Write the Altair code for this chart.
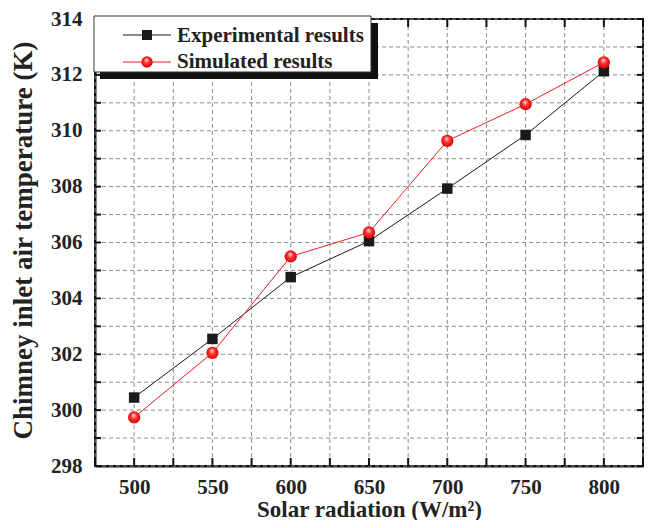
import altair as alt
import pandas as pd

# ---- data ----
radiation = [500, 550, 600, 650, 700, 750, 800]
experimental = [300.45, 302.55, 304.76, 306.05, 307.93, 309.85, 312.13]
simulated = [299.74, 302.05, 305.50, 306.36, 309.64, 310.95, 312.45]
series_names = ["Experimental results", "Simulated results"]
x_labels = [500, 550, 600, 650, 700, 750, 800]
y_labels = [298, 300, 302, 304, 306, 308, 310, 312, 314]
x_ticks = list(range(475, 826, 25))
y_ticks = list(range(298, 315, 1))
x_title = "Solar radiation (W/m²)"
y_title = "Chimney inlet air temperature (K)"

W, H = 548, 447
FONT = "Liberation Serif"

df_exp = pd.DataFrame({"x": radiation, "y": experimental})
df_sim = pd.DataFrame({"x": radiation, "y": simulated})
df_xt = pd.DataFrame({"x": x_ticks})
df_yt = pd.DataFrame({"y": y_ticks})
one = pd.DataFrame({"k": [0]})

xscale = alt.Scale(domain=[475, 825], nice=False, zero=False)
yscale = alt.Scale(domain=[298, 314], nice=False, zero=False)

xaxis = alt.Axis(
    values=x_labels, labelOverlap=False,
    ticks=False, grid=False,
    domain=True, domainColor="#111", domainWidth=2,
    labelFont=FONT, labelFontSize=21, labelFontWeight="bold", labelColor="#222",
    labelPadding=10, labelFlush=False,
    title=x_title, titleFont=FONT, titleFontSize=23, titleFontWeight="bold",
    titleColor="#222", titleX=W / 2, titleY=50, titleBaseline="alphabetic",
)
yaxis = alt.Axis(
    values=y_labels, labelOverlap=False,
    ticks=False, grid=False,
    domain=True, domainColor="#111", domainWidth=2,
    labelFont=FONT, labelFontSize=21, labelFontWeight="bold", labelColor="#222",
    labelPadding=13, labelFlush=False,
    title=y_title, titleFont=FONT, titleFontSize=27, titleFontWeight="bold",
    titleColor="#222", titleX=-72, titleY=221, titleAngle=-90,
    titleBaseline="middle", titleAlign="center",
)

# dashed grid
grid_col = "#8c8c8c"
x_grid = alt.Chart(df_xt).mark_rule(color=grid_col, strokeWidth=1, strokeDash=[4, 3]).encode(
    x=alt.X("x:Q", scale=xscale, axis=xaxis), y=alt.value(0), y2=alt.value(H)
)
y_grid = alt.Chart(df_yt).mark_rule(color=grid_col, strokeWidth=1, strokeDash=[4, 3]).encode(
    y=alt.Y("y:Q", scale=yscale, axis=yaxis), x=alt.value(0), x2=alt.value(W)
)

exp_line = alt.Chart(df_exp).mark_line(color="#1a1a1a", strokeWidth=1).encode(
    x=alt.X("x:Q", scale=xscale), y=alt.Y("y:Q", scale=yscale)
)
sim_line = alt.Chart(df_sim).mark_line(color="#ee1c24", strokeWidth=1).encode(
    x=alt.X("x:Q", scale=xscale), y=alt.Y("y:Q", scale=yscale)
)
exp_pts = alt.Chart(df_exp).mark_point(
    shape="square", filled=True, size=110, color="#1a1a1a", opacity=1
).encode(x=alt.X("x:Q", scale=xscale), y=alt.Y("y:Q", scale=yscale))

ball = alt.RadialGradient(
    gradient="radial",
    stops=[
        alt.GradientStop(color="#ffe6e6", offset=0),
        alt.GradientStop(color="#ff3030", offset=0.45),
        alt.GradientStop(color="#d40000", offset=1),
    ],
    x1=0.45, y1=0.3, r1=0, x2=0.5, y2=0.5, r2=0.55,
)
sim_pts = alt.Chart(df_sim).mark_point(
    shape="circle", filled=True, size=150, fill=ball, opacity=1, strokeWidth=0
).encode(x=alt.X("x:Q", scale=xscale), y=alt.Y("y:Q", scale=yscale))

# inward ticks
tick_col = "#111"
bottom_ticks = alt.Chart(df_xt).mark_rule(color=tick_col, strokeWidth=2).encode(
    x=alt.X("x:Q", scale=xscale), y=alt.value(H), y2=alt.value(H - 8)
)
top_ticks = alt.Chart(df_xt).mark_rule(color=tick_col, strokeWidth=2).encode(
    x=alt.X("x:Q", scale=xscale), y=alt.value(0), y2=alt.value(8)
)
left_ticks = alt.Chart(df_yt).mark_rule(color=tick_col, strokeWidth=2).encode(
    y=alt.Y("y:Q", scale=yscale), x=alt.value(0), x2=alt.value(6)
)
right_ticks = alt.Chart(df_yt).mark_rule(color=tick_col, strokeWidth=2).encode(
    y=alt.Y("y:Q", scale=yscale), x=alt.value(W), x2=alt.value(W - 6)
)

# legend
shadow = alt.Chart(one).mark_rect(color="#111").encode(
    x=alt.value(5), x2=alt.value(283), y=alt.value(4), y2=alt.value(60)
)
box = alt.Chart(one).mark_rect(fill="white", stroke="#333", strokeWidth=1).encode(
    x=alt.value(-1), x2=alt.value(276), y=alt.value(-3), y2=alt.value(53)
)
leg_l1 = alt.Chart(one).mark_rule(color="#1a1a1a", strokeWidth=1).encode(
    x=alt.value(28), x2=alt.value(76), y=alt.value(16)
)
leg_l2 = alt.Chart(one).mark_rule(color="#ee1c24", strokeWidth=1).encode(
    x=alt.value(28), x2=alt.value(76), y=alt.value(43)
)
leg_p1 = alt.Chart(one).mark_point(
    shape="square", filled=True, size=100, color="#1a1a1a", opacity=1
).encode(x=alt.value(52), y=alt.value(16))
leg_p2 = alt.Chart(one).mark_point(
    shape="circle", filled=True, size=130, fill=ball, opacity=1, strokeWidth=0
).encode(x=alt.value(52), y=alt.value(43))
leg_t1 = alt.Chart(one).mark_text(
    align="left", baseline="middle", font=FONT, fontSize=21, fontWeight="bold", color="#222"
).encode(x=alt.value(82), y=alt.value(17), text=alt.value(series_names[0]))
leg_t2 = alt.Chart(one).mark_text(
    align="left", baseline="middle", font=FONT, fontSize=21, fontWeight="bold", color="#222"
).encode(x=alt.value(82), y=alt.value(43), text=alt.value(series_names[1]))

chart = alt.layer(
    x_grid, y_grid,
    exp_line, sim_line, exp_pts, sim_pts,
    bottom_ticks, top_ticks, left_ticks, right_ticks,
    shadow, box, leg_l1, leg_l2, leg_p1, leg_p2, leg_t1, leg_t2,
).properties(
    width=W, height=H,
    autosize=alt.AutoSizeParams(type="none"),
    padding={"left": 87, "top": 11, "right": 1, "bottom": 54},
    background="white",
).configure_view(stroke="#111", strokeWidth=2)

chart.save("out.html", embed_options={"renderer": "svg", "actions": False})
